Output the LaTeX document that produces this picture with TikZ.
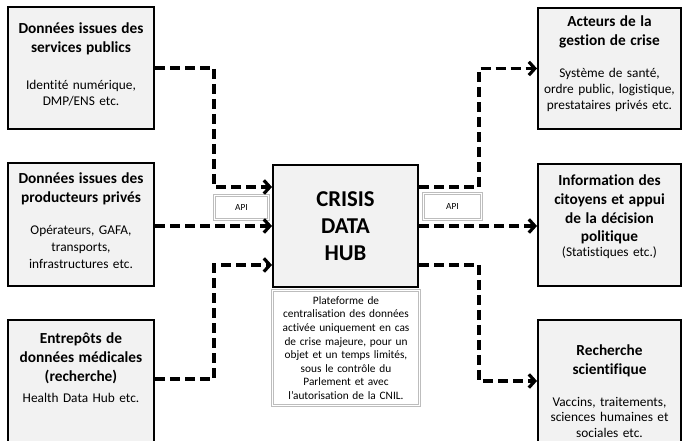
\documentclass[tikz,border=0pt]{standalone}
\usepackage{fontspec}
\setmainfont{Carlito}[Ligatures=NoCommon]
\usetikzlibrary{%
  arrows.meta,%
  calc,%
  positioning%
}

\definecolor{boxgray}{HTML}{F2F2F2}
\definecolor{framegray}{HTML}{BDBDBD}

\newcommand{\ttlfont}{\fontsize{11.5}{14}\selectfont\bfseries}
\newcommand{\bdyfont}{\fontsize{10}{11.8}\selectfont\mdseries}

\tikzset{
  srcbox/.style={draw,line width=1.5pt,fill=boxgray,minimum width=#1,
    text width=103pt,inner xsep=2pt,inner ysep=0pt,align=center},
  hubbox/.style={draw,line width=1.5pt,fill=boxgray,minimum width=108.75pt,
    minimum height=91.5pt,align=center,
    font=\fontsize{17}{20.25}\selectfont\bfseries},
  apibox/.style={draw=framegray,line width=0.6pt,double=white,
    double distance=0.9pt,fill=white,font=\fontsize{7}{8}\selectfont},
  notebox/.style={draw=framegray,line width=0.6pt,double=white,
    double distance=0.9pt,fill=white,minimum width=108.5pt,
    minimum height=86pt,text width=104pt,align=center,
    font=\fontsize{8.5}{10.2}\selectfont},
  flow/.style={line width=2.4pt,dash pattern=on 7.5pt off 3.75pt,
    -{Straight Barb[length=4.5pt,width=10pt]}}
}

\begin{document}
\begin{tikzpicture}[x=0.75pt,y=-0.75pt]
  \useasboundingbox (0,0) rectangle (682,441);
  \clip (0,0) rectangle (682,441);

  % sources
  \node[srcbox=109.5pt,text height=20.25pt,text depth=71.25pt] (pub) at (81,68)
  {\ttlfont Données issues des\\services publics\\[15.5pt]
   \bdyfont Identité numérique,\\DMP/ENS etc.};
  \node[srcbox=109.5pt,text height=15.5pt,text depth=76.75pt] (priv) at (81,224.5)
  {\ttlfont Données issues des\\producteurs privés\\[12.5pt]
   \bdyfont Opérateurs, GAFA,\\[0.8pt]transports,\\[0.8pt]infrastructures etc.};
  \node[srcbox=109.5pt,text height=18pt,text depth=94.5pt] (med) at (81,395)
  {\ttlfont Entrepôts de\\données médicales\\(recherche)\\[4pt]
   \bdyfont Health Data Hub etc.};

  % hub
  \node[hubbox] (hub) at (345.5,226) {CRISIS\\DATA\\HUB};
  \node[notebox] (note) at (346,348)
  {Plateforme de\\centralisation des données\\activée uniquement en cas\\
   de crise majeure, pour un\\objet et un temps limités,\\sous le contrôle du\\
   Parlement et avec\\l’autorisation de la CNIL.};
  \node[apibox,minimum width=41pt,minimum height=18.5pt] (apiin) at (241.5,207.5) {API};
  \node[apibox,minimum width=44pt,minimum height=20pt] (apiout) at (452.5,206.5) {API};

  % users
  \node[srcbox=107.25pt,text height=14.25pt,text depth=76.5pt] (act) at (609.5,68.5)
  {\ttlfont Acteurs de la\\gestion de crise\\[12.4pt]
   \bdyfont Système de santé,\\ordre public, logistique,\\prestataires privés etc.};
  \node[srcbox=107.25pt,text height=16.5pt,text depth=75pt] (info) at (609.5,225)
  {\ttlfont Information des\\citoyens et appui\\de la décision\\politique\\[-1.2pt]
   \bdyfont (Statistiques etc.)};
  \node[srcbox=107.25pt,text height=26.75pt,text depth=85.75pt] (rech) at (609.5,395)
  {\ttlfont Recherche\\scientifique\\[12pt]
   \bdyfont Vaccins, traitements,\\sciences humaines et\\[-0.3pt]sociales etc.};

  \coordinate (in1) at ($(hub.west)+(0,-39)$);
  \coordinate (in3) at ($(hub.west)+(0,39)$);
  \coordinate (out1) at ($(hub.east)+(0,-39)$);
  \coordinate (out3) at ($(hub.east)+(0,39)$);
  \coordinate (medout) at ($(med.north east)+(0,60)$);
  \coordinate (rechin) at ($(rech.north west)+(0,62)$);

  % data flows
  \draw[flow] (pub.east) -- ++(59,0) |- (in1);
  \draw[flow] (priv.east |- hub.west) -- (hub.west);
  \draw[flow] (medout) -- ++(59,0) |- (in3);
  \draw[flow] (out1) -- ++(60,0) |- (act.west);
  \draw[flow] (hub.east) -- (hub.east -| info.west);
  \draw[flow] (out3) -- ++(60,0) |- (rechin);
\end{tikzpicture}
\end{document}
